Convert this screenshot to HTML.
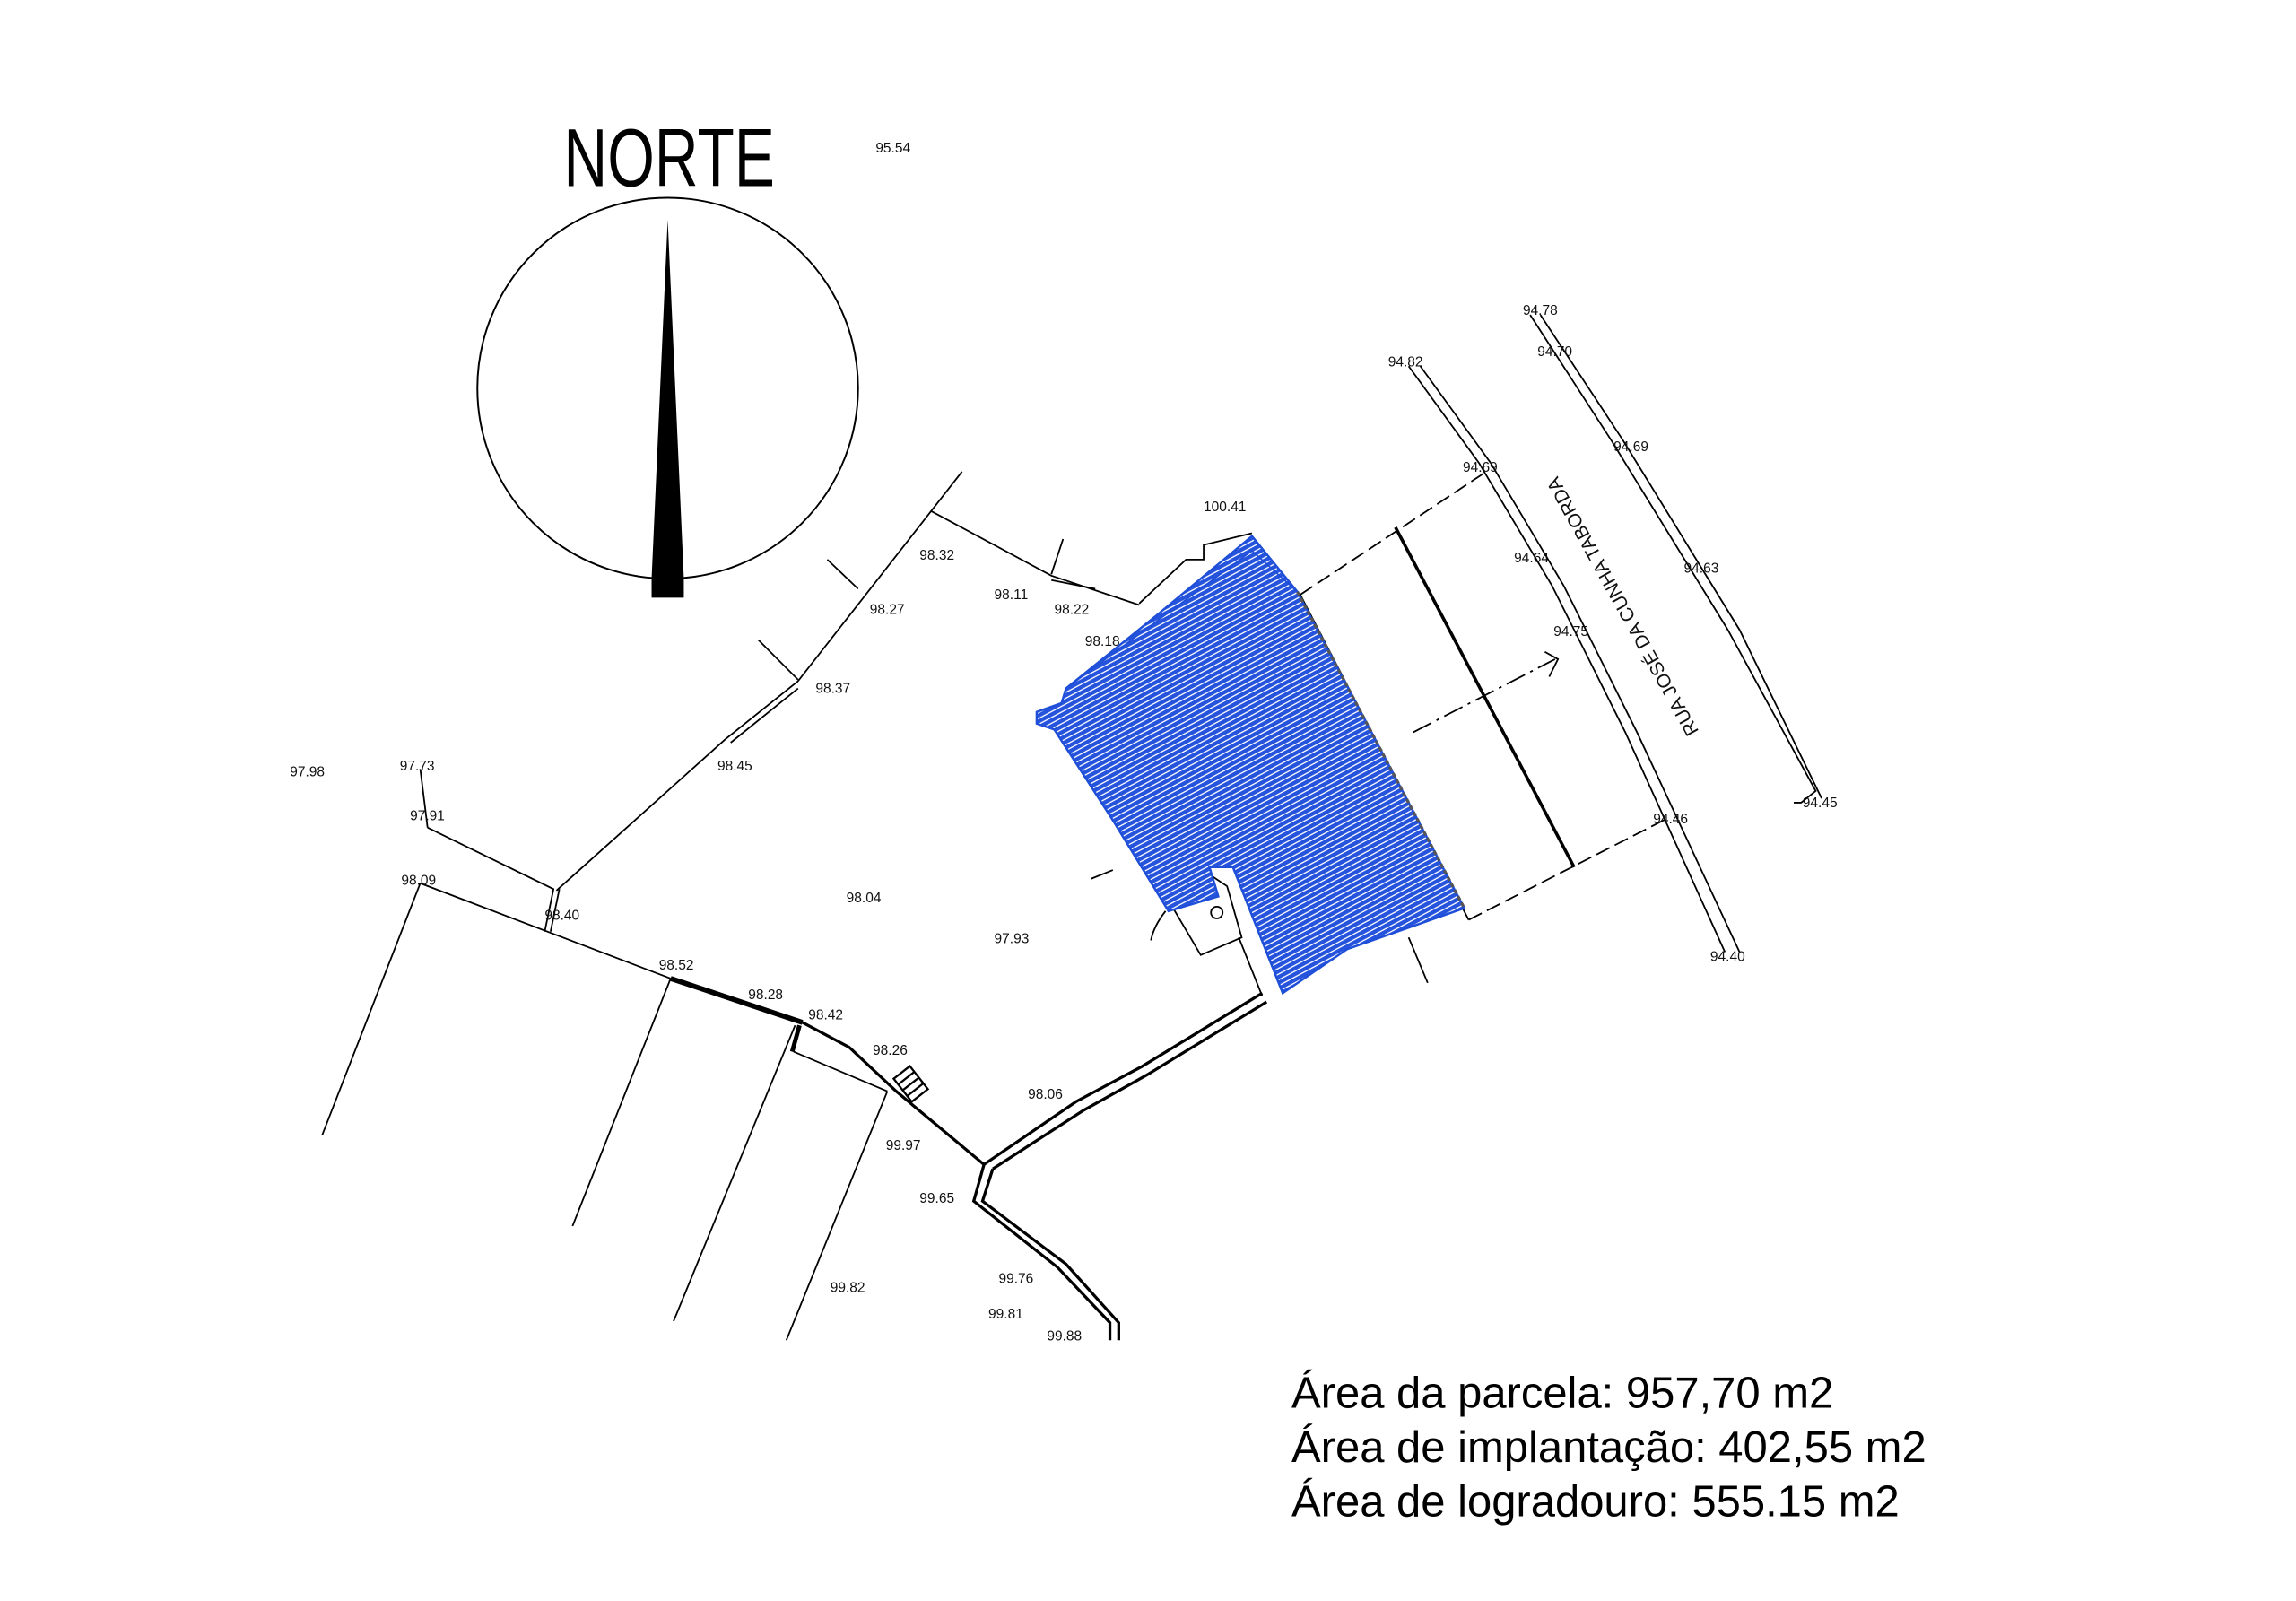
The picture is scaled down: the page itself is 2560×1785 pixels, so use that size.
<!DOCTYPE html>
<html><head><meta charset="utf-8"><style>
html,body{margin:0;padding:0;background:#fff;}
svg{display:block;}
.l{font-family:"Liberation Sans",sans-serif;font-size:9.5px;fill:#111;}
.b{font-family:"Liberation Sans",sans-serif;font-size:30px;fill:#000;}
</style></head><body>
<svg width="2560" height="1785" viewBox="0 0 1568 1093" preserveAspectRatio="none" xmlns="http://www.w3.org/2000/svg">
<defs>
<pattern id="h" width="3.5" height="3.5" patternUnits="userSpaceOnUse" patternTransform="rotate(-28)">
<rect width="3.5" height="3.5" fill="#fff"/>
<rect width="3.5" height="2.7" fill="#2553dc"/>
</pattern>
</defs>
<rect width="1568" height="1093" fill="#fff"/>
<text x="457" y="127" text-anchor="middle" font-family="Liberation Sans,sans-serif" font-size="56" transform="translate(457 0) scale(0.74 1) translate(-457 0)">NORTE</text>
<ellipse cx="456" cy="265" rx="130" ry="130" fill="none" stroke="#000" stroke-width="1.2"/>
<polygon points="456,150 445,395 445,408 467,408 467,395" fill="#000"/>
<g fill="none" stroke="#000" stroke-width="1.1">
<polyline points="657,322 545,465 495,505 380,608"/>
<polyline points="545,470 499,507"/>
<line x1="565" y1="382" x2="586" y2="402"/>
<line x1="518" y1="437" x2="545" y2="464"/>
<polyline points="636,349 718,393 778,413"/>
<polyline points="718,392 726,368"/>
<polyline points="718,396 748,402"/>
<polyline points="778,412 810,382 822,382 822,372 855,364"/>
<line x1="287" y1="525" x2="292" y2="565"/>
<polyline points="292,565 378,607 372,636"/>
<line x1="382" y1="607" x2="376" y2="636"/>
<polyline points="287,603 458,668"/>
<line x1="287" y1="603" x2="220" y2="775"/>
<line x1="458" y1="668" x2="391" y2="837"/>
<line x1="543" y1="700" x2="460" y2="902"/>
<line x1="542" y1="718" x2="606" y2="745"/>
<line x1="606" y1="745" x2="537" y2="915"/>
<polyline points="962,250 1010,316 1060,400 1110,500 1178,650"/>
<polyline points="970,250 1018,316 1068,400 1118,500 1188,650"/>
<polyline points="1045,215 1100,300 1180,430 1240,540 1230,548 1225,548"/>
<polyline points="1052,215 1108,300 1188,430 1244,545"/>
<line x1="1003" y1="628" x2="888" y2="406"/>
<line x1="1003" y1="628" x2="1140" y2="558" stroke-dasharray="10,4"/>
<line x1="888" y1="406" x2="1015" y2="322" stroke-dasharray="10,4"/>
<line x1="953" y1="360" x2="1075" y2="592" stroke-width="2.2"/>
<line x1="965" y1="500" x2="1062" y2="450" stroke-dasharray="14,4,2,4"/>
<polyline points="1055,445 1064,450 1058,462"/>
<line x1="962" y1="640" x2="975" y2="671"/>
<polyline points="823,595 838,605 848,640 820,652 800,618"/>
<circle cx="831" cy="623" r="4"/>
<path d="M796,622 Q788,632 786,642"/>
<line x1="846" y1="640" x2="862" y2="680"/>
<line x1="745" y1="600" x2="760" y2="594"/>
</g>
<g fill="none" stroke="#000">
<polyline points="458,668 548,698" stroke-width="3.5"/>
<polyline points="548,698 580,715 612,745 672,795" stroke-width="2"/>
<line x1="546" y1="700" x2="541" y2="718" stroke-width="3"/>
<g transform="translate(622,740) rotate(-38)" stroke-width="1.4">
<rect x="-7" y="-10" width="14" height="20"/>
<line x1="-7" y1="-5" x2="7" y2="-5"/><line x1="-7" y1="0" x2="7" y2="0"/><line x1="-7" y1="5" x2="7" y2="5"/>
</g>
<polyline points="672,795 665,820 722,865 758,903 758,915" stroke-width="2"/>
<polyline points="678,798 671,820 728,863 764,903 764,915" stroke-width="2"/>
<polyline points="672,795 735,752 780,728 862,678" stroke-width="2"/>
<polyline points="678,798 740,758 783,734 865,684" stroke-width="2"/>
</g>
<polygon points="855,366 886,404 1000,620 920,648 876,678 842,592 826,592 832,612 798,622 760,560 720,498 708,494 708,486 725,480 728,470 790,420" fill="url(#h)" stroke="#1f4fd8" stroke-width="1.5"/>
<polyline points="728,470 855,376 886,404" fill="none" stroke="#1f4fd8" stroke-width="1"/>
<polyline points="886,404 1000,620" fill="none" stroke="#555" stroke-width="2" stroke-dasharray="3,2"/>
<g class="l">
<text x="598" y="104">95.54</text>
<text x="1040" y="215">94.78</text>
<text x="1050" y="243">94.70</text>
<text x="948" y="250">94.82</text>
<text x="1102" y="308">94.69</text>
<text x="999" y="322">94.69</text>
<text x="822" y="349">100.41</text>
<text x="628" y="382">98.32</text>
<text x="1034" y="384">94.64</text>
<text x="1150" y="391">94.63</text>
<text x="679" y="409">98.11</text>
<text x="594" y="419">98.27</text>
<text x="720" y="419">98.22</text>
<text x="1061" y="434">94.75</text>
<text x="741" y="441">98.18</text>
<text x="557" y="473">98.37</text>
<text x="490" y="526">98.45</text>
<text x="198" y="530">97.98</text>
<text x="273" y="526">97.73</text>
<text x="280" y="560">97.91</text>
<text x="1231" y="551">94.45</text>
<text x="1129" y="562">94.46</text>
<text x="274" y="604">98.09</text>
<text x="578" y="616">98.04</text>
<text x="372" y="628">98.40</text>
<text x="679" y="644">97.93</text>
<text x="1168" y="656">94.40</text>
<text x="450" y="662">98.52</text>
<text x="511" y="682">98.28</text>
<text x="552" y="696">98.42</text>
<text x="596" y="720">98.26</text>
<text x="702" y="750">98.06</text>
<text x="605" y="785">99.97</text>
<text x="628" y="821">99.65</text>
<text x="682" y="876">99.76</text>
<text x="567" y="882">99.82</text>
<text x="675" y="900">99.81</text>
<text x="715" y="915">99.88</text>
</g>
<text x="1112" y="412" font-family="Liberation Sans,sans-serif" font-size="13" transform="rotate(-119 1112 412)" text-anchor="middle" fill="#111">RUA JOSÉ DA CUNHA TABORDA</text>
<text class="b" x="882" y="961">Área da parcela: 957,70 m2</text>
<text class="b" x="882" y="998">Área de implantação: 402,55 m2</text>
<text class="b" x="882" y="1035">Área de logradouro: 555.15 m2</text>
</svg>
</body></html>
